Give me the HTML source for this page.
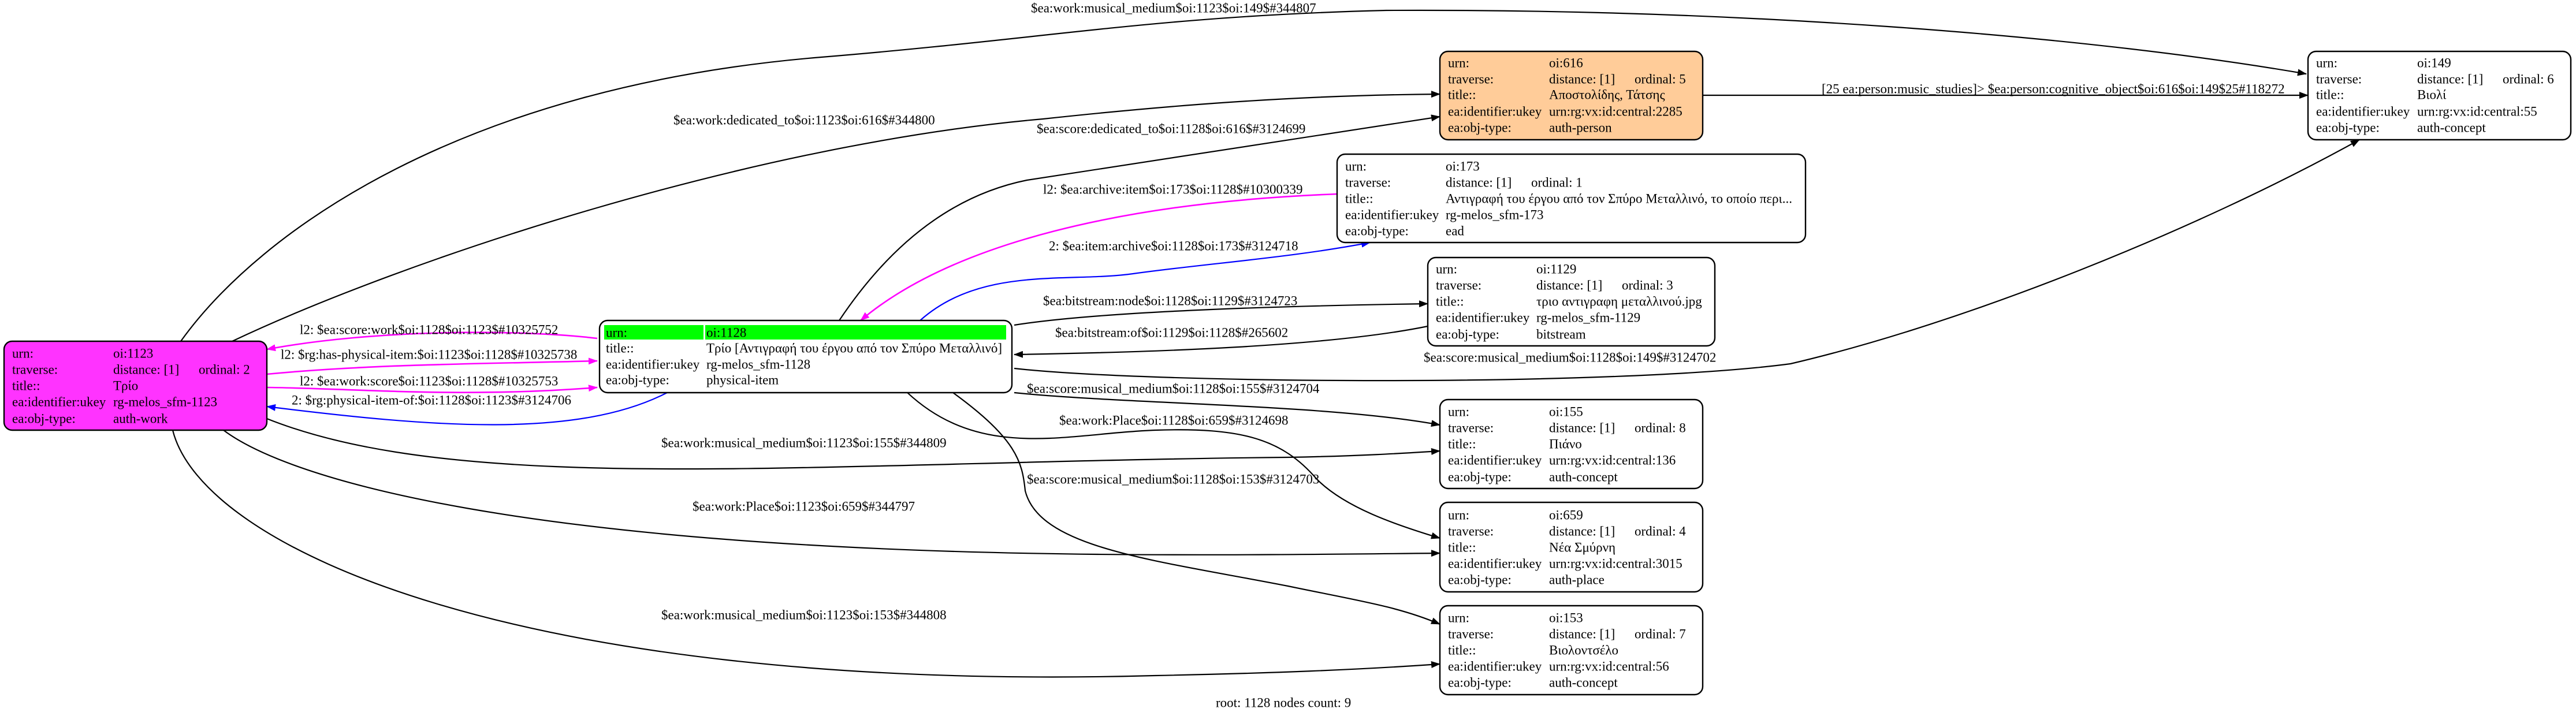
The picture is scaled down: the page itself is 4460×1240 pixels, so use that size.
<!DOCTYPE html>
<html><head><meta charset="utf-8"><style>
html,body{margin:0;padding:0;background:#fff;}
svg{display:block;}
text{font-family:"Liberation Serif","Noto Serif CJK SC",serif;font-size:23px;fill:#000;dominant-baseline:central;}
.e{fill:none;stroke:#000;stroke-width:2.2;}
.m{fill:none;stroke:#ff00ff;stroke-width:2.6;}
.b{fill:none;stroke:#0000ff;stroke-width:2.2;}
.n{stroke:#000;stroke-width:2.4;}
</style></head><body>
<svg width="4460" height="1240" viewBox="0 0 4460 1240" xmlns="http://www.w3.org/2000/svg">
<defs>
<marker id="ak" markerWidth="16" markerHeight="12" refX="15" refY="6" orient="auto" markerUnits="userSpaceOnUse"><path d="M0,0 L16,6 L0,12 z" fill="#000"/></marker>
<marker id="am" markerWidth="16" markerHeight="12" refX="15" refY="6" orient="auto" markerUnits="userSpaceOnUse"><path d="M0,0 L16,6 L0,12 z" fill="#ff00ff"/></marker>
<marker id="ab" markerWidth="16" markerHeight="12" refX="15" refY="6" orient="auto" markerUnits="userSpaceOnUse"><path d="M0,0 L16,6 L0,12 z" fill="#0000ff"/></marker>
</defs>

<!-- edges -->
<path class="e" marker-end="url(#ak)" d="M313,591 C450,400 800,150 1422,99 C1822,66 2000,28 2400,18 C3000,15 3600,60 3993,128"/>
<path class="e" marker-end="url(#ak)" d="M402,591 C700,450 1300,250 1806,206 C2000,185 2230,165 2493,163"/>
<path class="e" marker-end="url(#ak)" d="M1453,555 Q1590,350 1778,312 L2493,202"/>
<path class="m" marker-end="url(#am)" d="M2315,336 C1950,350 1650,420 1490,555"/>
<path class="b" marker-end="url(#ab)" d="M1593,555 C1700,460 1850,490 1962,474 C2100,455 2230,447 2372,420"/>
<path class="e" marker-end="url(#ak)" d="M1756,563 C1900,540 2200,530 2472,526"/>
<path class="e" marker-end="url(#ak)" d="M2472,565 C2300,600 2000,610 1756,614"/>
<path class="m" marker-end="url(#am)" d="M1034,586 C900,570 650,570 462,605"/>
<path class="m" marker-end="url(#am)" d="M462,648 C650,630 850,630 1034,625"/>
<path class="m" marker-end="url(#am)" d="M462,671 C600,672 800,690 1034,671"/>
<path class="b" marker-end="url(#ab)" d="M1155,680 C1000,760 750,740 462,704"/>
<path class="e" marker-end="url(#ak)" d="M462,725 C800,860 1400,800 2230,792 C2350,790 2430,785 2493,781"/>
<path class="e" marker-end="url(#ak)" d="M1756,680 C1950,700 2300,700 2493,736"/>
<path class="e" marker-end="url(#ak)" d="M1571,680 C1700,800 1850,750 2000,745 C2150,740 2220,760 2280,830 C2330,880 2420,910 2493,932"/>
<path class="e" marker-end="url(#ak)" d="M1650,680 C1760,760 1770,800 1775,850 C1800,950 2000,970 2230,1015 C2350,1040 2420,1050 2493,1081"/>
<path class="e" marker-end="url(#ak)" d="M387,745 C500,830 900,950 1900,960 C2100,962 2300,960 2493,958"/>
<path class="e" marker-end="url(#ak)" d="M299,745 C350,950 900,1200 2000,1170 C2200,1166 2350,1160 2493,1150"/>
<path class="e" marker-end="url(#ak)" d="M1756,638 C2000,665 2800,670 3100,630 C3400,560 3800,400 4085,242"/>
<path class="e" marker-end="url(#ak)" d="M2948,165 L3996,165"/>

<!-- edge labels -->
<text x="1785" y="14">$ea:work:musical_medium$oi:1123$oi:149$#344807</text>
<text x="1166" y="208">$ea:work:dedicated_to$oi:1123$oi:616$#344800</text>
<text x="1795" y="223">$ea:score:dedicated_to$oi:1128$oi:616$#3124699</text>
<text x="1806" y="328">l2: $ea:archive:item$oi:173$oi:1128$#10300339</text>
<text x="1816" y="426">2: $ea:item:archive$oi:1128$oi:173$#3124718</text>
<text x="1806" y="521">$ea:bitstream:node$oi:1128$oi:1129$#3124723</text>
<text x="1827" y="576">$ea:bitstream:of$oi:1129$oi:1128$#265602</text>
<text x="519" y="571">l2: $ea:score:work$oi:1128$oi:1123$#10325752</text>
<text x="486" y="614">l2: $rg:has-physical-item:$oi:1123$oi:1128$#10325738</text>
<text x="519" y="660">l2: $ea:work:score$oi:1123$oi:1128$#10325753</text>
<text x="505" y="693">2: $rg:physical-item-of:$oi:1128$oi:1123$#3124706</text>
<text x="1145" y="767">$ea:work:musical_medium$oi:1123$oi:155$#344809</text>
<text x="1778" y="673">$ea:score:musical_medium$oi:1128$oi:155$#3124704</text>
<text x="1834" y="728">$ea:work:Place$oi:1128$oi:659$#3124698</text>
<text x="1778" y="830">$ea:score:musical_medium$oi:1128$oi:153$#3124703</text>
<text x="1199" y="877">$ea:work:Place$oi:1123$oi:659$#344797</text>
<text x="1145" y="1065">$ea:work:musical_medium$oi:1123$oi:153$#344808</text>
<text x="2465" y="619">$ea:score:musical_medium$oi:1128$oi:149$#3124702</text>
<text x="3154" y="154">[25 ea:person:music_studies]&gt; $ea:person:cognitive_object$oi:616$oi:149$25#118272</text>
<text x="2105" y="1217">root: 1128 nodes count: 9</text>

<!-- node 1123 -->
<rect class="n" x="7" y="591" width="455" height="154" rx="14" fill="#ff33ff"/>
<text x="21" y="612">urn:</text><text x="196" y="612">oi:1123</text>
<text x="21" y="640">traverse:</text><text x="196" y="640">distance: [1]</text><text x="344" y="640">ordinal: 2</text>
<text x="21" y="668">title::</text><text x="196" y="668">Τρίο</text>
<text x="21" y="696">ea:identifier:ukey</text><text x="196" y="696">rg-melos_sfm-1123</text>
<text x="21" y="725">ea:obj-type:</text><text x="196" y="725">auth-work</text>

<!-- node 1128 -->
<rect class="n" x="1038" y="555" width="714" height="125" rx="14" fill="#fff"/>
<rect x="1046" y="563" width="172" height="25" fill="#00ff00"/>
<rect x="1221" y="563" width="521" height="25" fill="#00ff00"/>
<text x="1049" y="576">urn:</text><text x="1223" y="576">oi:1128</text>
<text x="1049" y="603">title::</text><text x="1223" y="603">Τρίο [Αντιγραφή του έργου από τον Σπύρο Μεταλλινό]</text>
<text x="1049" y="631">ea:identifier:ukey</text><text x="1223" y="631">rg-melos_sfm-1128</text>
<text x="1049" y="658">ea:obj-type:</text><text x="1223" y="658">physical-item</text>

<!-- node 616 -->
<rect class="n" x="2493" y="89" width="455" height="153" rx="14" fill="#ffcc99"/>
<text x="2507" y="109">urn:</text><text x="2682" y="109">oi:616</text>
<text x="2507" y="137">traverse:</text><text x="2682" y="137">distance: [1]</text><text x="2830" y="137">ordinal: 5</text>
<text x="2507" y="164">title::</text><text x="2682" y="164">Αποστολίδης, Τάτσης</text>
<text x="2507" y="193">ea:identifier:ukey</text><text x="2682" y="193">urn:rg:vx:id:central:2285</text>
<text x="2507" y="221">ea:obj-type:</text><text x="2682" y="221">auth-person</text>

<!-- node 149 -->
<rect class="n" x="3996" y="89" width="455" height="153" rx="14" fill="#fff"/>
<text x="4010" y="109">urn:</text><text x="4185" y="109">oi:149</text>
<text x="4010" y="137">traverse:</text><text x="4185" y="137">distance: [1]</text><text x="4333" y="137">ordinal: 6</text>
<text x="4010" y="164">title::</text><text x="4185" y="164">Βιολί</text>
<text x="4010" y="193">ea:identifier:ukey</text><text x="4185" y="193">urn:rg:vx:id:central:55</text>
<text x="4010" y="221">ea:obj-type:</text><text x="4185" y="221">auth-concept</text>

<!-- node 173 -->
<rect class="n" x="2315" y="267" width="811" height="153" rx="14" fill="#fff"/>
<text x="2329" y="288">urn:</text><text x="2503" y="288">oi:173</text>
<text x="2329" y="316">traverse:</text><text x="2503" y="316">distance: [1]</text><text x="2651" y="316">ordinal: 1</text>
<text x="2329" y="344">title::</text><text x="2503" y="344">Αντιγραφή του έργου από τον Σπύρο Μεταλλινό, το οποίο περι...</text>
<text x="2329" y="372">ea:identifier:ukey</text><text x="2503" y="372">rg-melos_sfm-173</text>
<text x="2329" y="400">ea:obj-type:</text><text x="2503" y="400">ead</text>

<!-- node 1129 -->
<rect class="n" x="2472" y="446" width="497" height="153" rx="14" fill="#fff"/>
<text x="2486" y="466">urn:</text><text x="2660" y="466">oi:1129</text>
<text x="2486" y="494">traverse:</text><text x="2660" y="494">distance: [1]</text><text x="2808" y="494">ordinal: 3</text>
<text x="2486" y="522">title::</text><text x="2660" y="522">τριο αντιγραφη μεταλλινού.jpg</text>
<text x="2486" y="550">ea:identifier:ukey</text><text x="2660" y="550">rg-melos_sfm-1129</text>
<text x="2486" y="579">ea:obj-type:</text><text x="2660" y="579">bitstream</text>

<!-- node 155 -->
<rect class="n" x="2493" y="692" width="455" height="154" rx="14" fill="#fff"/>
<text x="2507" y="713">urn:</text><text x="2682" y="713">oi:155</text>
<text x="2507" y="741">traverse:</text><text x="2682" y="741">distance: [1]</text><text x="2830" y="741">ordinal: 8</text>
<text x="2507" y="769">title::</text><text x="2682" y="769">Πιάνο</text>
<text x="2507" y="797">ea:identifier:ukey</text><text x="2682" y="797">urn:rg:vx:id:central:136</text>
<text x="2507" y="826">ea:obj-type:</text><text x="2682" y="826">auth-concept</text>

<!-- node 659 -->
<rect class="n" x="2493" y="870" width="455" height="155" rx="14" fill="#fff"/>
<text x="2507" y="892">urn:</text><text x="2682" y="892">oi:659</text>
<text x="2507" y="920">traverse:</text><text x="2682" y="920">distance: [1]</text><text x="2830" y="920">ordinal: 4</text>
<text x="2507" y="948">title::</text><text x="2682" y="948">Νέα Σμύρνη</text>
<text x="2507" y="976">ea:identifier:ukey</text><text x="2682" y="976">urn:rg:vx:id:central:3015</text>
<text x="2507" y="1004">ea:obj-type:</text><text x="2682" y="1004">auth-place</text>

<!-- node 153 -->
<rect class="n" x="2493" y="1049" width="455" height="154" rx="14" fill="#fff"/>
<text x="2507" y="1070">urn:</text><text x="2682" y="1070">oi:153</text>
<text x="2507" y="1098">traverse:</text><text x="2682" y="1098">distance: [1]</text><text x="2830" y="1098">ordinal: 7</text>
<text x="2507" y="1126">title::</text><text x="2682" y="1126">Βιολοντσέλο</text>
<text x="2507" y="1154">ea:identifier:ukey</text><text x="2682" y="1154">urn:rg:vx:id:central:56</text>
<text x="2507" y="1182">ea:obj-type:</text><text x="2682" y="1182">auth-concept</text>
</svg>
</body></html>
